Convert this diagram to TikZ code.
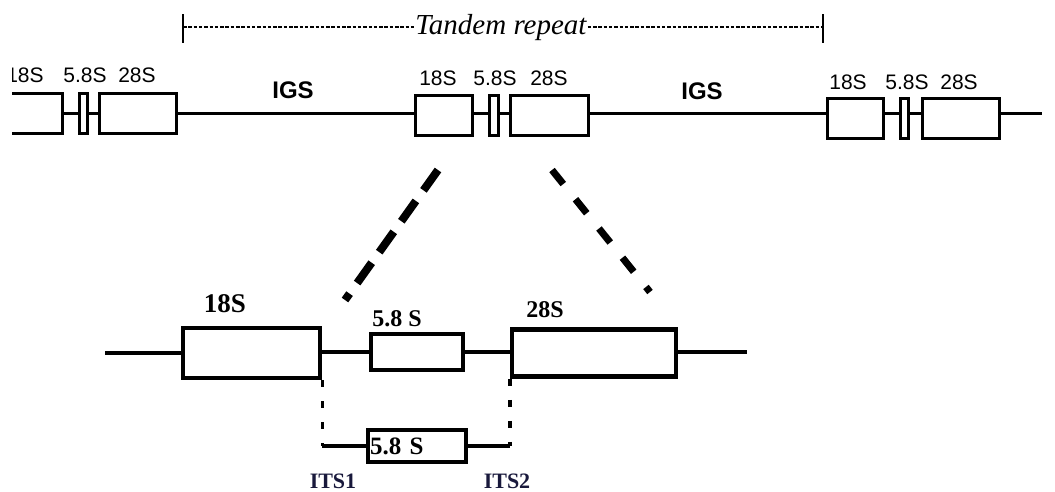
\documentclass[tikz,border=0pt]{standalone}
\usepackage{fontspec}
\setmainfont{Liberation Serif}
\newfontfamily\labsans{Liberation Sans}
\newfontfamily\labserif{Liberation Serif}
\usetikzlibrary{calc}
\begin{document}
\begin{tikzpicture}[x=1pt,y=-1pt,
  topbox/.style={draw,line width=3pt,fill=white,inner sep=0pt,minimum height=40pt},
  topline/.style={line width=3pt},
  botbox/.style={draw,line width=4.5pt,fill=white,inner sep=0pt},
  botline/.style={line width=4pt},
  toplab/.style={anchor=base,inner sep=0pt,font=\labsans\fontsize{21}{21}\selectfont},
  igslab/.style={anchor=base,inner sep=0pt,font=\labsans\bfseries\fontsize{24}{24}\selectfont},
  botlab/.style={anchor=base,inner sep=0pt,font=\labserif\bfseries\fontsize{24}{24}\selectfont},
  itslab/.style={anchor=base,inner sep=0pt,text={rgb,255:red,25;green,25;blue,60},
                 font=\labserif\bfseries\fontsize{22}{22}\selectfont},
  zoomdash/.style={line width=8pt,line cap=butt},
  spandash/.style={line width=2.6pt,dash pattern=on 3.5pt off 1.8pt},
  itsdots/.style={line width=3.5pt,dash pattern=on 7pt off 14pt}]
\useasboundingbox (0,0) rectangle (1055,491);

% ---- tandem repeat span ----
\node[anchor=base,inner sep=1pt,font=\labserif\itshape\fontsize{29}{29}\selectfont]
  (tandem) at (501,34) {Tandem repeat};
\coordinate (tl) at (183,27);
\coordinate (tr) at (823,27);
\draw[line width=1.6pt] (183,14) -- (183,43);
\draw[line width=1.6pt] (823,14) -- (823,43);
\draw[spandash] (tl) -- (tandem.west |- tl);
\draw[spandash] (tandem.east |- tl) -- (tr);

% ---- rDNA array (top row) ----
% left unit, cut at the left edge
\begin{scope}
\clip (12,0) rectangle (1055,491);
\draw[line width=3pt] (12,93) -- (62,93) -- (62,133) -- (12,133);
\node[toplab] (l18t) at (25,82) {18S};
\end{scope}
\coordinate (l18) at (62,113);
\node[topbox,minimum width=8pt] (l58) at (83,113) {};
\node[topbox,minimum width=77pt] (l28) at (137.5,113) {};
\node[toplab] at (85,82) {5.8S};
\node[toplab] at (137,82) {28S};

% middle unit
\node[topbox,minimum width=57pt] (m18) at (443.5,115) {};
\node[topbox,minimum width=9pt] (m58) at (493.5,115) {};
\node[topbox,minimum width=78pt] (m28) at (549,115) {};
\node[toplab] at (438,85) {18S};
\node[toplab] at (495,85) {5.8S};
\node[toplab] at (549,85) {28S};

% right unit
\node[topbox,minimum width=56pt] (r18) at (855,118) {};
\node[topbox,minimum width=8pt] (r58) at (904,118) {};
\node[topbox,minimum width=77pt] (r28) at (960.5,118) {};
\node[toplab] at (848,89) {18S};
\node[toplab] at (907,89) {5.8S};
\node[toplab] at (959,89) {28S};
\coordinate (rend) at (1042,113);

\node[igslab] at (293,98) {IGS};
\node[igslab] at (702,99) {IGS};

% backbone
\draw[topline] (l18) -- (l58.west |- l18);
\draw[topline] (l58.east |- l18) -- (l28.west |- l18);
\draw[topline] (l28.east |- l18) -- (m18.west |- l18);
\draw[topline] (m18.east |- l18) -- (m58.west |- l18);
\draw[topline] (m58.east |- l18) -- (m28.west |- l18);
\draw[topline] (m28.east |- l18) -- (r18.west |- l18);
\draw[topline] (r18.east |- l18) -- (r58.west |- l18);
\draw[topline] (r58.east |- l18) -- (r28.west |- l18);
\draw[topline] (r28.east |- l18) -- (rend);

% ---- enlargement lines ----
\coordinate (zl1) at (438,170);
\coordinate (zl2) at (345,300);
\coordinate (zr1) at (552,170);
\coordinate (zr2) at (650,292);
\draw[zoomdash,dash pattern=on 25pt off 13pt] (zl1) -- (zl2);
\draw[zoomdash,line width=7pt,dash pattern=on 18pt off 19.5pt] (zr1) -- (zr2);

% ---- one unit enlarged ----
\coordinate (bstart) at (105,353);
\coordinate (bend) at (747,352);
\node[botbox,minimum width=137pt,minimum height=50pt] (b18) at (251.5,353) {};
\node[botbox,minimum width=92pt,minimum height=36pt] (b58) at (417,352) {};
\node[botbox,minimum width=164pt,minimum height=47pt] (b28) at (594,353) {};
\draw[botline] (bstart) -- (b18.west);
\draw[botline] (b18.east |- b58) -- (b58.west);
\draw[botline] (b58.east) -- (b28.west |- b58);
\draw[botline] (b28.east |- b58) -- (bend);
\node[botlab,font=\labserif\bfseries\fontsize{27}{27}\selectfont] at (225,312) {18S};
\node[botlab] at (397,326) {5.8 S};
\node[botlab] at (545,317) {28S};

% ---- ITS region ----
\node[botbox,line width=4pt,minimum width=98pt,minimum height=32pt,
      font=\labserif\bfseries\fontsize{25}{25}\selectfont,text depth=0pt,
      align=left,text width=94pt] (i58) at (417,446) {5.8 S};
\coordinate (its1) at (b18.south east |- i58.center);
\coordinate (its2) at (b28.south west |- i58.center);
\draw[itsdots] (b18.south east) -- (its1);
\draw[itsdots] (b28.south west) -- (its2);
\draw[botline] (its1) -- (i58.west);
\draw[botline] (i58.east) -- (its2);
\node[itslab] at (333,488) {ITS1};
\node[itslab] at (507,488) {ITS2};
\end{tikzpicture}
\end{document}
